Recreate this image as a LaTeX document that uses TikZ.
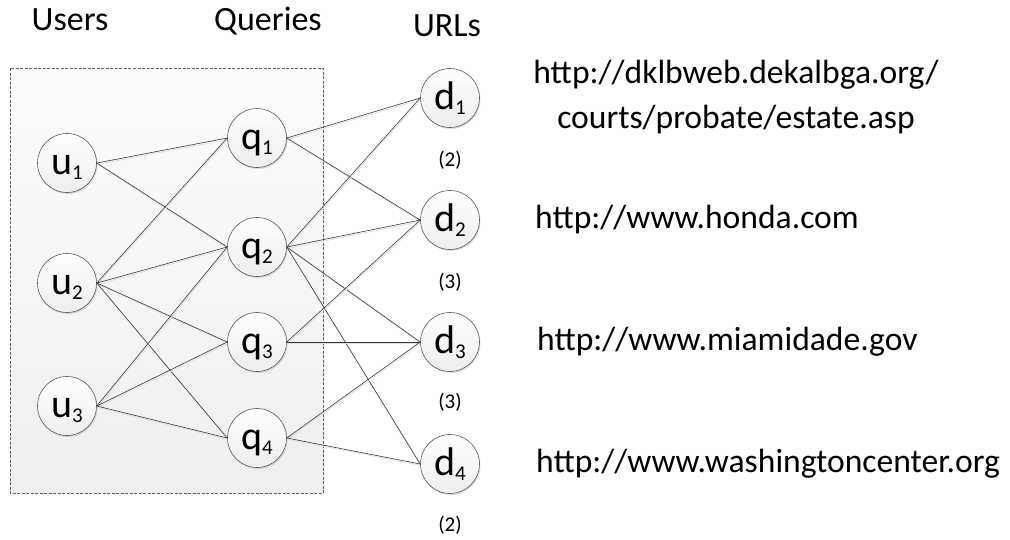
\documentclass[tikz,border=0pt]{standalone}
\usepackage{fontspec}
\setmainfont{Carlito}
\usetikzlibrary{shadows}
\pgfdeclarelayer{bg}
\pgfdeclarelayer{edges}
\pgfsetlayers{bg,edges,main}
\newcommand{\lbl}[2]{#1\raisebox{-5pt}[0pt][0pt]{\fontsize{21}{24}\selectfont #2}}
\tikzset{
  vtx/.style={circle, draw=gray!70!black, line width=0.6pt, minimum size=59pt, inner sep=0pt,
    text height=23pt, text depth=0pt,
    top color=white, bottom color=gray!14, drop shadow={shadow xshift=1pt, shadow yshift=-1.5pt, opacity=0.25},
    font=\fontsize{40}{44}\selectfont},
  hdr/.style={font=\fontsize{34}{38}\selectfont, inner sep=0pt, anchor=base},
  cnt/.style={font=\fontsize{21}{24}\selectfont, inner sep=0pt},
  url/.style={font=\fontsize{33.6}{45}\selectfont, inner sep=0pt, align=center},
  edge/.style={draw=gray!45!black, line width=0.6pt},
  edgesh/.style={draw=gray!25, line width=0.8pt, transform canvas={shift={(0.8pt,-1.4pt)}}},
}
\begin{document}
\begin{tikzpicture}[x=1pt,y=-1pt]
\useasboundingbox (0,0) rectangle (1010,539);
% headers
\node[hdr] (hU) at (70,30) {Users};
\node[hdr] (hQ) at (268,30) {Queries};
\node[hdr] (hR) at (447,36) {URLs};
% nodes
\node[vtx] (u1) at (67,163) {\lbl{u}{1}};
\node[vtx] (u2) at (67,283) {\lbl{u}{2}};
\node[vtx] (u3) at (67,406) {\lbl{u}{3}};
\node[vtx] (q1) at (257,138) {\lbl{q}{1}};
\node[vtx] (q2) at (257,247) {\lbl{q}{2}};
\node[vtx] (q3) at (257,342) {\lbl{q}{3}};
\node[vtx] (q4) at (257,438) {\lbl{q}{4}};
\node[vtx] (d1) at (450,98) {\lbl{d}{1}};
\node[vtx] (d2) at (450,220) {\lbl{d}{2}};
\node[vtx] (d3) at (450,342) {\lbl{d}{3}};
\node[vtx] (d4) at (450,464) {\lbl{d}{4}};
% counts
\node[cnt] (c1) at (450,160) {(2)};
\node[cnt] (c2) at (450,282) {(3)};
\node[cnt] (c3) at (450,402) {(3)};
\node[cnt] (c4) at (450,525) {(2)};
% urls
\node[url] (l1) at (736,97) {http://dklbweb.dekalbga.org/\\courts/probate/estate.asp};
\node[url, anchor=west] (l2) at (535,220) {http://www.honda.com};
\node[url, anchor=west] (l3) at (537,342) {http://www.miamidade.gov};
\node[url, anchor=west] (l4) at (536,464) {http://www.washingtoncenter.org};
% box
\begin{pgfonlayer}{bg}
\coordinate (bxa) at (10,68);
\coordinate (bxb) at (323,493);
\fill[gray!18, opacity=0.6] ([shift={(2pt,-2pt)}]bxa) rectangle ([shift={(2pt,-2pt)}]bxb);
\shade[top color=gray!2, bottom color=gray!13] (bxa) rectangle (bxb);
\draw[gray!80!black, dashed, line width=0.6pt, dash pattern=on 3pt off 1.5pt] (bxa) rectangle (bxb);
\end{pgfonlayer}
% edges
\begin{pgfonlayer}{edges}
\foreach \a/\b in {u1/q1,u1/q2,u2/q1,u2/q2,u2/q3,u2/q4,u3/q2,u3/q3,u3/q4,
                   q1/d1,q1/d2,q2/d1,q2/d2,q2/d3,q2/d4,q3/d2,q3/d3,q4/d3,q4/d4}{
  \draw[edgesh] (\a.east) -- (\b.west);
  \draw[edge] (\a.east) -- (\b.west);
}
\end{pgfonlayer}
\end{tikzpicture}
\end{document}
